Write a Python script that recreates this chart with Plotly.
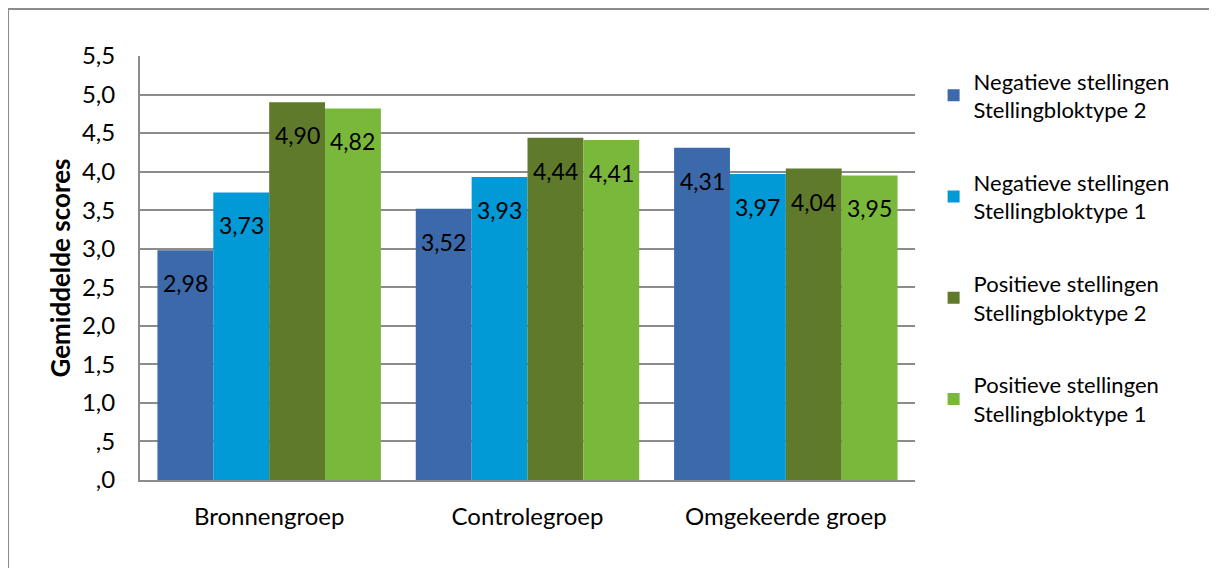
import plotly.graph_objects as go

categories = ["Bronnengroep", "Controlegroep", "Omgekeerde groep"]
series_names = [
    "Negatieve stellingen<br>Stellingbloktype 2",
    "Negatieve stellingen<br>Stellingbloktype 1",
    "Positieve stellingen<br>Stellingbloktype 2",
    "Positieve stellingen<br>Stellingbloktype 1",
]
neg_type2 = [2.98, 3.52, 4.31]
neg_type1 = [3.73, 3.93, 3.97]
pos_type2 = [4.90, 4.44, 4.04]
pos_type1 = [4.82, 4.41, 3.95]
series_values = [neg_type2, neg_type1, pos_type2, pos_type1]
colors = ["#3B69AA", "#0199D6", "#5F7A2B", "#79B83B"]

tick_vals = [0, 0.5, 1.0, 1.5, 2.0, 2.5, 3.0, 3.5, 4.0, 4.5, 5.0, 5.5]
tick_text = [",0", ",5", "1,0", "1,5", "2,0", "2,5", "3,0", "3,5", "4,0", "4,5", "5,0", "5,5"]

FONT = "Lato, 'Open Sans', sans-serif"
bargap = 0.135
n = len(series_values)

fig = go.Figure()
for i, (name, vals, col) in enumerate(zip(series_names, series_values, colors)):
    fig.add_trace(go.Bar(
        x=categories, y=vals, name=name, marker=dict(color=col, line=dict(width=0)),
        legendgroup=f"g{i}",
    ))
    for j, v in enumerate(vals):
        off = (i - (n - 1) / 2) * (1 - bargap) / n
        fig.add_annotation(
            x=j + off, y=v, text=f"{v:.2f}".replace(".", ","), showarrow=False,
            yanchor="middle", yshift=-33, font=dict(family=FONT, size=23, color="#000000"),
        )

fig.update_layout(
    width=1201, height=560,
    margin=dict(l=132, r=294, t=48, b=88),
    paper_bgcolor="white", plot_bgcolor="white",
    barmode="group", bargap=bargap, bargroupgap=0,
    font=dict(family=FONT, size=22, color="#000000"),
    legend=dict(
        x=1.024, xanchor="left", y=0.99, yanchor="top",
        font=dict(family=FONT, size=22, color="#000000"),
        tracegroupgap=41, traceorder="grouped", itemwidth=30,
        bgcolor="rgba(0,0,0,0)",
    ),
    showlegend=True,
)
fig.update_yaxes(
    range=[0, 5.5], tickvals=tick_vals, ticktext=tick_text,
    showgrid=True, gridcolor="#8C8C8C", gridwidth=2,
    showline=True, linecolor="#8C8C8C", linewidth=2,
    ticks="", tickfont=dict(size=24), zeroline=False, ticklabelstandoff=18,
    title=dict(text="<b>Gemiddelde scores</b>", font=dict(size=26), standoff=4),
)
fig.update_xaxes(
    showline=True, linecolor="#8C8C8C", linewidth=2, ticks="", tickfont=dict(size=24),
    ticklabelstandoff=14,
)
# outer chart border (top and left edges)
fig.add_shape(type="line", xref="paper", yref="paper", x0=-0.1703, x1=1.5, y0=1.1108, y1=1.1108,
              line=dict(color="#8C8C8C", width=2))
fig.add_shape(type="line", xref="paper", yref="paper", x0=-0.1703, x1=-0.1703, y0=1.1108, y1=-0.4,
              line=dict(color="#8C8C8C", width=2))

fig.write_html("out.html", config={"displayModeBar": False})
